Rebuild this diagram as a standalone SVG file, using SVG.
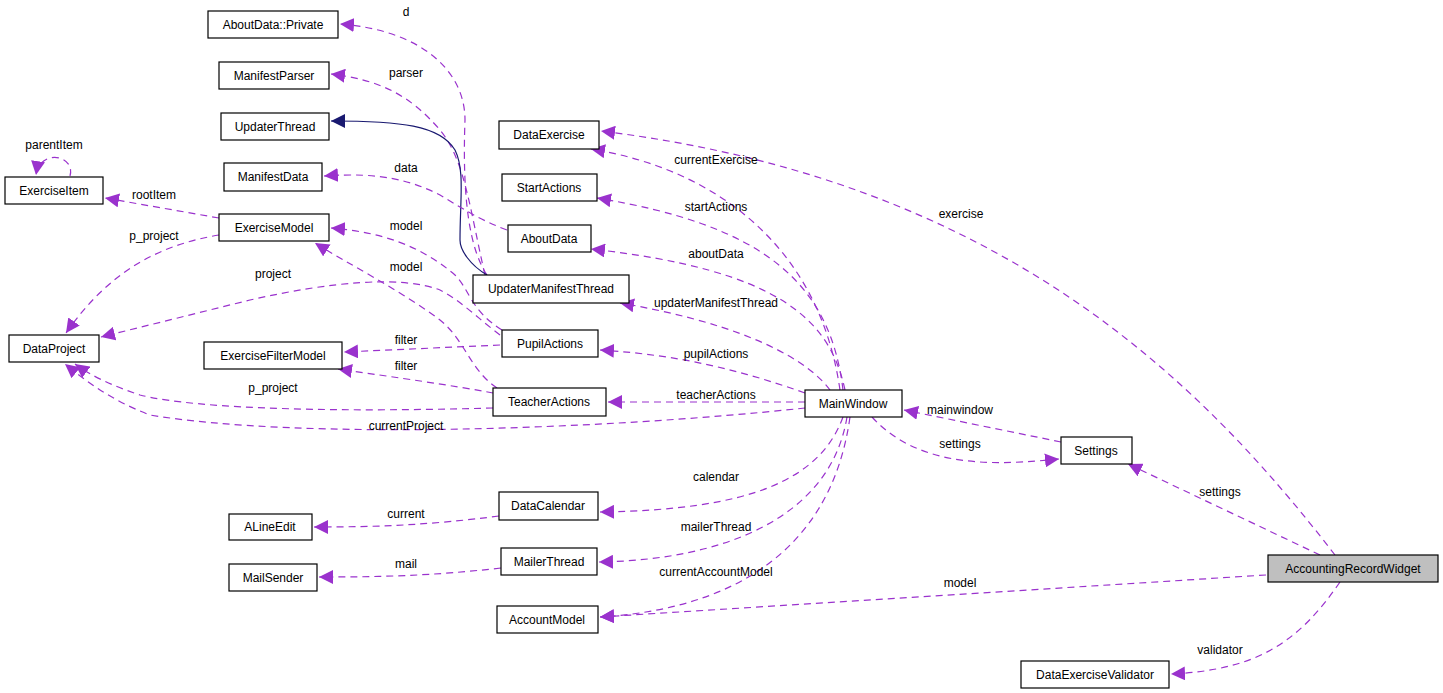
<svg xmlns="http://www.w3.org/2000/svg" width="1443" height="693" viewBox="0 0 1443 693">
<defs>
<marker id="a" viewBox="0 0 10 10" refX="10" refY="5" markerWidth="14" markerHeight="14" markerUnits="userSpaceOnUse" orient="auto"><path d="M0,0 L10,5 L0,10 z" fill="#9a32cd"/></marker>
<marker id="b" viewBox="0 0 10 10" refX="10" refY="5" markerWidth="14" markerHeight="14" markerUnits="userSpaceOnUse" orient="auto"><path d="M0,0 L10,5 L0,10 z" fill="#191970"/></marker>
<style>
.n rect{fill:#fff;stroke:#000;stroke-width:1.2}
text{font-family:"Liberation Sans",Arial,sans-serif;font-size:12px;fill:#000}
.n text{text-anchor:middle}
.l text{text-anchor:middle}
.e path{fill:none;stroke:#9a32cd;stroke-width:1.2;stroke-dasharray:7,5;marker-end:url(#a)}
.e path.s{stroke:#191970;stroke-dasharray:none;marker-end:url(#b)}
</style>
</defs>
<rect width="1443" height="693" fill="#fff"/>
<g id="connectors" class="e">
<path d="M487,275 C470,250 462,200 465,120 C465,70 420,30 340,24"/>
<path d="M485,275 C470,210 465,160 440,130 C410,95 380,80 331,74"/>
<path class="s" d="M487,275 C470,265 460,250 460,240 C460,200 465,170 455,150 C440,125 400,121 331,121"/>
<path d="M507,230 C480,220 465,210 440,195 C410,180 380,172 324,176"/>
<path d="M502,330 C470,310 470,290 455,275 C420,245 380,232 331,228"/>
<path d="M497,388 C470,370 465,340 440,320 C400,290 350,265 315,243"/>
<path d="M500,335 C480,320 460,300 440,290 C400,275 330,282 250,300 L101,337"/>
<path d="M219,218 L105,198"/>
<path d="M219,235 C160,245 110,270 66,333"/>
<path d="M70,176 C76,155 40,148 36,175"/>
<path d="M500,345 L344,352"/>
<path d="M493,393 C450,385 400,378 338,369"/>
<path d="M493,408 C350,412 200,410 140,395 C110,385 90,375 75,364"/>
<path d="M805,408 C600,430 300,440 150,415 C110,400 85,380 65,364"/>
<path d="M840,390 C820,250 720,170 591,149"/>
<path d="M843,390 C830,280 760,225 597,198"/>
<path d="M845,390 C830,320 780,270 591,249"/>
<path d="M830,390 C800,350 720,320 620,303"/>
<path d="M805,393 C740,370 680,355 600,350"/>
<path d="M805,402 L608,402"/>
<path d="M1335,555 C1200,380 1000,180 601,131"/>
<path d="M1320,555 L1128,464"/>
<path d="M1061,442 L904,410"/>
<path d="M872,417 C920,470 1000,465 1059,459"/>
<path d="M843,417 C820,480 750,510 600,512"/>
<path d="M847,417 C830,520 720,560 599,562"/>
<path d="M850,417 C830,560 720,610 600,617"/>
<path d="M1266,575 L600,617"/>
<path d="M499,516 C430,525 380,527 314,527"/>
<path d="M501,568 C430,576 380,577 319,577"/>
<path d="M1340,582 C1300,640 1260,670 1171,674"/>
</g>
<g class="l">
<text x="406" y="16">d</text><text x="406" y="77">parser</text><text x="406" y="172">data</text>
<text x="154" y="199">rootItem</text><text x="154" y="240">p_project</text><text x="54" y="149">parentItem</text>
<text x="406" y="230">model</text><text x="406" y="271">model</text><text x="273" y="278">project</text>
<text x="406" y="344">filter</text><text x="406" y="370">filter</text><text x="273" y="392">p_project</text>
<text x="406" y="430">currentProject</text><text x="716" y="164">currentExercise</text><text x="716" y="211">startActions</text>
<text x="716" y="258">aboutData</text><text x="716" y="307">updaterManifestThread</text><text x="716" y="358">pupilActions</text>
<text x="716" y="399">teacherActions</text><text x="960" y="414">mainwindow</text><text x="960" y="448">settings</text>
<text x="961" y="218">exercise</text><text x="1220" y="496">settings</text><text x="716" y="481">calendar</text>
<text x="716" y="531">mailerThread</text><text x="406" y="518">current</text><text x="406" y="568">mail</text>
<text x="716" y="576">currentAccountModel</text><text x="960" y="587">model</text><text x="1220" y="654">validator</text>
</g>
<g id="AboutDataPrivate" class="n"><rect x="208" y="11" width="130" height="27"/><text x="273" y="29">AboutData::Private</text></g>
<g id="ManifestParser" class="n"><rect x="219" y="62" width="110" height="27"/><text x="274" y="80">ManifestParser</text></g>
<g id="UpdaterThread" class="n"><rect x="221" y="113" width="108" height="27"/><text x="275" y="131">UpdaterThread</text></g>
<g id="ManifestData" class="n"><rect x="224" y="163" width="98" height="28"/><text x="273" y="181">ManifestData</text></g>
<g id="ExerciseItem" class="n"><rect x="5" y="177" width="98" height="27"/><text x="54" y="195">ExerciseItem</text></g>
<g id="ExerciseModel" class="n"><rect x="219" y="214" width="110" height="27"/><text x="274" y="232">ExerciseModel</text></g>
<g id="DataProject" class="n"><rect x="9" y="335" width="90" height="27"/><text x="54" y="353">DataProject</text></g>
<g id="ExerciseFilterModel" class="n"><rect x="204" y="342" width="138" height="27"/><text x="273" y="360">ExerciseFilterModel</text></g>
<g id="DataExercise" class="n"><rect x="499" y="121" width="100" height="28"/><text x="549" y="139">DataExercise</text></g>
<g id="StartActions" class="n"><rect x="502" y="174" width="95" height="27"/><text x="549" y="192">StartActions</text></g>
<g id="AboutData" class="n"><rect x="508" y="225" width="83" height="27"/><text x="549" y="243">AboutData</text></g>
<g id="UpdaterManifestThread" class="n"><rect x="473" y="275" width="156" height="28"/><text x="551" y="293">UpdaterManifestThread</text></g>
<g id="PupilActions" class="n"><rect x="502" y="330" width="96" height="27"/><text x="550" y="348">PupilActions</text></g>
<g id="TeacherActions" class="n"><rect x="493" y="388" width="113" height="28"/><text x="549" y="406">TeacherActions</text></g>
<g id="MainWindow" class="n"><rect x="805" y="390" width="97" height="27"/><text x="853" y="408">MainWindow</text></g>
<g id="Settings" class="n"><rect x="1061" y="437" width="71" height="27"/><text x="1096" y="455">Settings</text></g>
<g id="AccountingRecordWidget" class="n"><rect x="1268" y="555" width="170" height="27" style="fill:#bfbfbf"/><text x="1353" y="573">AccountingRecordWidget</text></g>
<g id="DataCalendar" class="n"><rect x="499" y="492" width="99" height="28"/><text x="548" y="510">DataCalendar</text></g>
<g id="ALineEdit" class="n"><rect x="229" y="514" width="83" height="26"/><text x="270" y="531">ALineEdit</text></g>
<g id="MailerThread" class="n"><rect x="501" y="548" width="96" height="27"/><text x="549" y="566">MailerThread</text></g>
<g id="MailSender" class="n"><rect x="229" y="564" width="88" height="27"/><text x="273" y="582">MailSender</text></g>
<g id="AccountModel" class="n"><rect x="497" y="606" width="101" height="27"/><text x="547" y="624">AccountModel</text></g>
<g id="DataExerciseValidator" class="n"><rect x="1021" y="661" width="148" height="27"/><text x="1095" y="679">DataExerciseValidator</text></g>
</svg>
